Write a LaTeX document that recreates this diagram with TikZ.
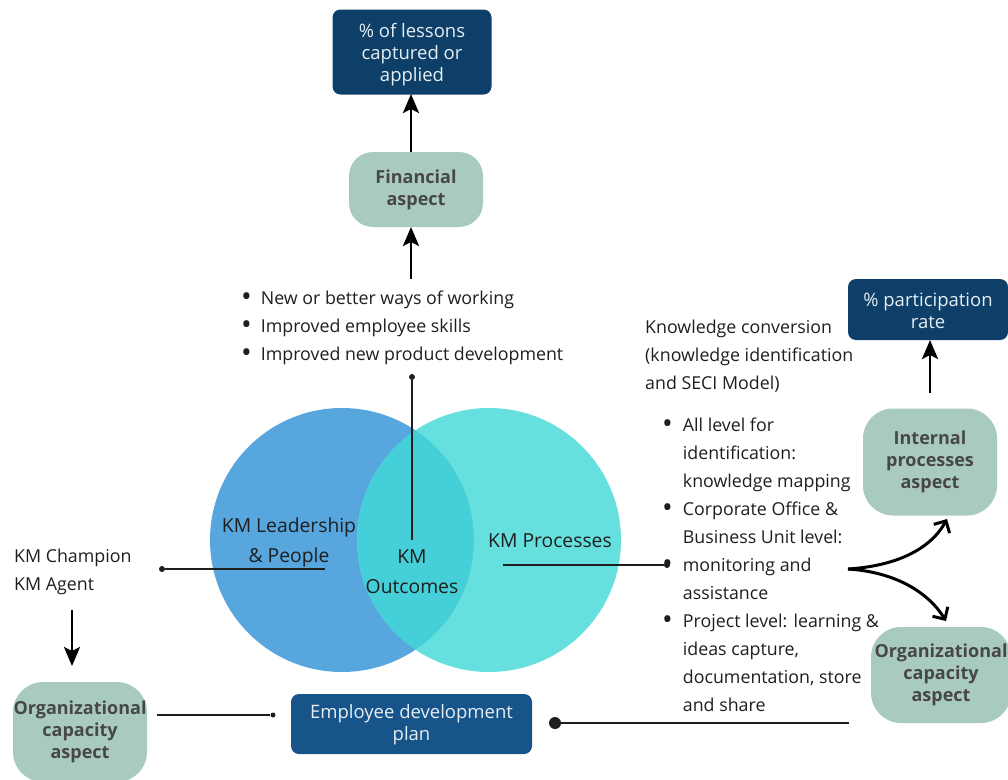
\documentclass[tikz,border=0pt]{standalone}
\usepackage{fontspec}
\usepackage{graphicx}
\setmainfont{Open Sans}
\usetikzlibrary{arrows.meta,calc}
\definecolor{navy}{HTML}{0D3F68}
\definecolor{navyb}{HTML}{16548A}
\definecolor{sage}{HTML}{A9CBBD}
\definecolor{lblue}{HTML}{57A7DE}
\definecolor{lcyan}{HTML}{66E0DF}
\definecolor{lmid}{HTML}{45CFD8}
\definecolor{txt}{HTML}{1E1E1E}
\definecolor{sagetxt}{HTML}{474747}
\definecolor{boxtxt}{HTML}{E6EEF4}
\newcommand{\bul}{\raisebox{-2.2pt}{\scalebox{1.6}{\textbullet}}}
\tikzset{
  navybox/.style={fill=navy, rounded corners=8pt, text=boxtxt, align=center,
    font=\fontsize{18.5}{22}\selectfont, inner sep=0pt},
  boxtext/.style={text=boxtxt, align=center, font=\fontsize{18.5}{22}\selectfont, inner sep=0pt},
  sagebox/.style={fill=sage, rounded corners=26pt, text=sagetxt, align=center,
    font=\fontsize{18}{22}\selectfont\bfseries, inner sep=0pt},
  plain/.style={text=txt, font=\fontsize{17.8}{28}\selectfont, inner sep=0pt},
  venn/.style={text=txt, font=\fontsize{19.3}{30}\selectfont, inner sep=0pt},
  thick arrow/.style={line width=2.8pt, -{Stealth[length=19pt,width=16pt,inset=4pt]}},
  fork arrow/.style={line width=3pt, -{Straight Barb[length=9pt,width=18pt]}},
  thin/.style={line width=1.1pt, txt},
  dotc/.style={circle, fill=txt, inner sep=0pt, minimum size=6pt},
}
\begin{document}
\begin{tikzpicture}[x=1pt,y=-1pt]
\useasboundingbox (0,0) rectangle (1008,779);
% Venn circles
\fill[lblue] (342,540) circle (132);
\fill[lcyan] (489,540) circle (132);
\begin{scope}
  \clip (342,540) circle (132);
  \fill[lmid] (489,540) circle (132);
\end{scope}

% boxes
\node[navybox, minimum width=159pt, minimum height=85pt] (lessons) at (412,52) {};
\node[boxtext] (lessonst) at (412,55) {\% of lessons\\captured or\\applied};
\node[sagebox, minimum width=134pt, minimum height=75pt, rounded corners=24pt] (fin) at (416,189.5) {Financial\\aspect};
\node[navybox, minimum width=160pt, minimum height=61pt] (part) at (928,309.5) {};
\node[boxtext] (partt) at (928,311) {\% participation\\rate};
\node[sagebox, minimum width=134pt, minimum height=107pt, rounded corners=30pt] (int) at (930,462) {Internal\\processes\\aspect};
\node[sagebox, minimum width=140pt, minimum height=96pt, rounded corners=30pt] (orgR) at (941,675) {Organizational\\capacity\\aspect};
\node[sagebox, minimum width=134pt, minimum height=100pt, rounded corners=30pt] (orgL) at (80,732) {Organizational\\capacity\\aspect};
\node[navybox, fill=navyb, minimum width=241pt, minimum height=60pt] (edp) at (411.5,724) {};
\node[boxtext] (edpt) at (411.5,725) {Employee development\\plan};

% texts
\node[plain, anchor=base west] (outc) at (241,304) {\begin{tabular}[t]{@{}l@{\hspace{9pt}}l@{}}
\bul & New or better ways of working\\
\bul & Improved employee skills\\
\bul & Improved new product development
\end{tabular}};
\node[plain, anchor=base west] (kc) at (645,333) {\begin{tabular}[t]{@{}l@{}}
Knowledge conversion\\
(knowledge identification\\
and SECI Model)
\end{tabular}};
\node[plain, anchor=base west] (proc) at (662,431) {\begin{tabular}[t]{@{}l@{\hspace{10pt}}l@{}}
\bul & All level for\\
 & identification:\\
 & knowledge mapping\\
\bul & Corporate Office \&\\
 & Business Unit level:\\
\bul & monitoring and\\
 & assistance\\
\bul & Project level: learning \&\\
 & ideas capture,\\
 & documentation, store\\
 & and share
\end{tabular}};
\node[plain, anchor=base west] (champ) at (14,562) {\begin{tabular}[t]{@{}l@{}}
KM Champion\\
KM Agent
\end{tabular}};
\node[venn, anchor=base] (lead) at (289,532) {\begin{tabular}[t]{@{}c@{}}KM Leadership\\\& People\end{tabular}};
\node[venn, anchor=base] (kmo) at (412,563) {\begin{tabular}[t]{@{}c@{}}KM\\Outcomes\end{tabular}};
\node[venn, anchor=base] (kmp) at (550,547) {KM Processes};

% dots and coordinates
\node[dotc] (d1) at (412,377) {};
\coordinate (d1e) at (412,540);
\node[dotc] (d2) at (162,569) {};
\coordinate (d2e) at (325,569);
\node[dotc] (d3) at (667,565) {};
\coordinate (d3e) at (503,565);
\node[dotc, minimum size=5pt] (d4) at (273,715) {};
\coordinate (d4e) at (157,715);
\node[dotc, minimum size=12pt] (d5) at (555,723) {};
\coordinate (d5e) at (849,723);
\coordinate (fork) at (848,569);
\coordinate (finarr) at (411,279);
\coordinate (champarr) at (72,610);
\coordinate (partarr) at (930,393);
\coordinate (lessarr) at (411,94);
\coordinate (finbot) at (411,227);
\coordinate (fintop) at (411,152);
\coordinate (partbot) at (930,340);
\coordinate (champend) at (72,666);
\coordinate (tipU) at (947,519);
\coordinate (tipD) at (946,621);

% connectors
\draw[thin] (d1) -- (d1e);
\draw[thin] (d2) -- (d2e);
\draw[thin] (d3) -- (d3e);
\draw[thin] (d4e) -- (d4);
\draw[line width=2pt, txt] (d5) -- (d5e);
\draw[thick arrow] (finarr) -- (finbot);
\draw[thick arrow] (fintop) -- (lessarr);
\draw[thick arrow] (partarr) -- (partbot);
\draw[thick arrow] (champarr) -- (champend);
\draw[fork arrow] (fork) .. controls (895,566) and (930,550) .. (tipU);
\draw[fork arrow] (fork) .. controls (895,572) and (928,592) .. (tipD);
\end{tikzpicture}
\end{document}
